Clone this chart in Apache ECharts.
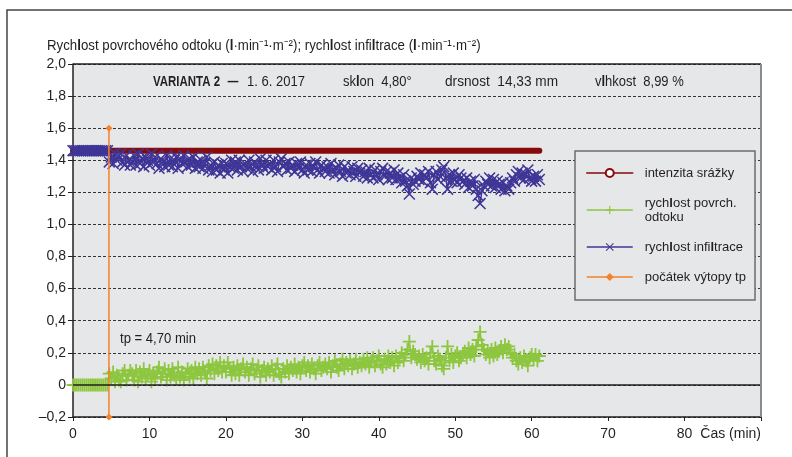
<!DOCTYPE html>
<html><head><meta charset="utf-8">
<script src="https://cdn.jsdelivr.net/npm/echarts@6/dist/echarts.min.js"></script>
<style>html,body{margin:0;padding:0;background:#fff}#c{width:792px;height:457px}</style>
</head><body><div id="c"></div>
<script>
const FONT = "'Liberation Sans', Arial, sans-serif";

// ---- data ----
const seriesNames = ['intenzita srážky', 'rychlost povrch.\nodtoku', 'rychlost infiltrace', 'počátek výtopy tp'];
const xTickLabels = ['0', '10', '20', '30', '40', '50', '60', '70', '80', 'Čas (min)'];
const yTickLabels = ['–0,2', '0', '0,2', '0,4', '0,6', '0,8', '1,0', '1,2', '1,4', '1,6', '1,8', '2,0'];
const rainTimes = [0, 61];
const rainValues = [1.46, 1.46];
const tpTimes = [4.70, 4.70];
const tpValues = [-0.2, 1.6];
const sampleStart = 0;      // min
const sampleStep = 0.25;    // min
// runoff rate, l/min/m2 (t = 0 ... 61 min)
const runoff = [
  0,0,0,0,0,0,0,0,0,0,0,0,0,0,0,0,0,0,0,
  0.07,0.04,0.08,0.02,0.06,0.03,
  0.02,0.07,0.09,0.03,0.06,0.09,
  0.07,0.03,0.09,0.02,0.08,0.05,
  0.10,0.04,0.06,0.09,0.02,0.07,
  0.04,0.08,0.11,0.05,0.07,0.10,
  0.03,0.09,0.05,0.10,0.06,0.04,
  0.11,0.05,0.08,0.03,0.07,0.10,
  0.05,0.09,0.04,0.11,0.07,0.10,
  0.06,0.11,0.08,0.04,0.12,0.09,
  0.13,0.07,0.12,0.09,0.14,0.08,
  0.12,0.08,0.14,0.10,0.06,0.11,
  0.07,0.12,0.06,0.10,0.13,0.08,
  0.11,0.06,0.10,0.13,0.07,0.09,
  0.12,0.05,0.09,0.11,0.06,0.10,
  0.08,0.12,0.06,0.10,0.13,0.07,
  0.05,0.10,0.08,0.12,0.07,0.11,
  0.09,0.13,0.08,0.11,0.07,0.12,
  0.14,0.09,0.12,0.08,0.13,0.10,
  0.07,0.12,0.14,0.09,0.11,0.13,
  0.10,0.14,0.08,0.12,0.15,0.11,
  0.09,0.13,0.16,0.10,0.14,0.12,
  0.15,0.10,0.13,0.16,0.11,0.14,
  0.12,0.16,0.13,0.17,0.11,0.15,
  0.17,0.12,0.15,0.18,0.13,0.11,
  0.16,0.13,0.18,0.14,0.17,0.12,
  0.18,0.14,0.17,0.20,0.15,0.19,
  0.22,0.27,0.17,0.21,0.19,0.16,
  0.18,0.14,0.19,0.15,0.17,0.13,
  0.20,0.24,0.15,0.13,0.18,0.16,
  0.12,0.10,0.17,0.24,0.15,0.19,
  0.14,0.18,0.20,0.15,0.17,0.19,
  0.21,0.17,0.23,0.19,0.22,0.18,
  0.24,0.28,0.33,0.25,0.22,0.19,
  0.21,0.17,0.22,0.18,0.23,0.19,
  0.21,0.24,0.20,0.25,0.22,0.24,
  0.20,0.17,0.19,0.15,0.13,0.17,
  0.14,0.18,0.15,0.12,0.17,0.19,
  0.16,0.19,0.15,0.18
];
// infiltration rate, l/min/m2 (t = 0 ... 61 min)
const infiltration = [
  1.46,1.46,1.46,1.46,1.46,1.46,1.46,1.46,1.46,1.46,1.46,1.46,1.46,1.46,1.46,1.46,1.46,1.46,1.46,
  1.39,1.42,1.38,1.44,1.40,1.43,
  1.44,1.39,1.37,1.43,1.40,1.37,
  1.39,1.43,1.37,1.44,1.38,1.41,
  1.36,1.42,1.40,1.37,1.44,1.39,
  1.42,1.38,1.35,1.41,1.39,1.36,
  1.43,1.37,1.41,1.36,1.40,1.42,
  1.35,1.41,1.38,1.43,1.39,1.36,
  1.41,1.37,1.42,1.35,1.39,1.36,
  1.40,1.35,1.38,1.42,1.34,1.37,
  1.33,1.39,1.34,1.37,1.32,1.38,
  1.34,1.38,1.32,1.36,1.40,1.35,
  1.39,1.34,1.40,1.36,1.33,1.38,
  1.35,1.40,1.36,1.33,1.39,1.37,
  1.34,1.41,1.37,1.35,1.40,1.36,
  1.38,1.34,1.40,1.36,1.33,1.39,
  1.41,1.36,1.38,1.34,1.39,1.35,
  1.37,1.33,1.38,1.35,1.39,1.34,
  1.32,1.37,1.34,1.38,1.33,1.36,
  1.39,1.34,1.32,1.37,1.35,1.33,
  1.36,1.32,1.38,1.34,1.31,1.35,
  1.37,1.33,1.30,1.36,1.32,1.34,
  1.31,1.36,1.33,1.30,1.35,1.32,
  1.34,1.30,1.33,1.29,1.35,1.31,
  1.29,1.34,1.31,1.28,1.33,1.35,
  1.30,1.33,1.28,1.32,1.29,1.34,
  1.28,1.32,1.29,1.26,1.31,1.27,
  1.24,1.19,1.29,1.25,1.27,1.30,
  1.28,1.32,1.27,1.31,1.29,1.33,
  1.26,1.22,1.31,1.33,1.28,1.30,
  1.34,1.36,1.29,1.22,1.31,1.27,
  1.32,1.28,1.26,1.31,1.29,1.27,
  1.25,1.29,1.23,1.27,1.24,1.28,
  1.22,1.18,1.13,1.21,1.24,1.27,
  1.25,1.29,1.24,1.28,1.23,1.27,
  1.25,1.22,1.26,1.21,1.24,1.22,
  1.26,1.29,1.27,1.31,1.33,1.29,
  1.32,1.28,1.31,1.34,1.29,1.27,
  1.30,1.27,1.31,1.28
];

// ---- helpers ----
const pairs = (xs, ys) => ys.map((v, i) => [xs[i], v]);
const sampled = arr => arr.map((v, i) => [sampleStart + i * sampleStep, v]);
const boldL = s => s.replace(/l/g, '{b|l}');
const mctx = document.createElement('canvas').getContext('2d');
function fitScale(plain, weight, size, target) {
  mctx.font = weight + ' ' + size + 'px ' + FONT;
  return target / mctx.measureText(plain).width;
}

const C_RED = '#870b0b', C_GREEN = '#8dc63f', C_BLUE = '#3f3597', C_ORANGE = '#f5822a';
const BG = '#e6e7e8', INK = '#231f20';
const PLUS = 'path://M4.3,0H5.7V10H4.3Z M0,4.3H10V5.7H0Z';
const CROSS = 'path://M0,0.9L0.9,0L10,9.1L9.1,10Z M9.1,0L10,0.9L0.9,10L0,9.1Z';

const chart = echarts.init(document.getElementById('c'), null, {renderer: 'canvas'});
const richBase = {b: {fontFamily: FONT, fontSize: 14, fontWeight: 'bold', fill: INK, color: INK}};

function txt(x, y, text, bold, width) {
  const sx = width ? fitScale(text, bold ? 'bold' : 'normal', 14, width) : 1;
  return {
    type: 'text', x: x, y: y, z: 10, scaleX: sx,
    style: {text: bold ? text : boldL(text), fill: INK, fontFamily: FONT, fontSize: 14,
      fontWeight: bold ? 'bold' : 'normal', verticalAlign: 'middle', rich: richBase}
  };
}

const option = {
  backgroundColor: '#fff',
  animation: false,
  textStyle: {fontFamily: FONT},
  grid: {left: 73, right: 31, top: 64, bottom: 40, show: true, backgroundColor: BG, borderWidth: 0},
  xAxis: {
    type: 'value', min: 0, max: 90, interval: 10,
    axisLine: {onZero: false, lineStyle: {color: INK, width: 1.5}},
    axisTick: {show: true, length: 4, lineStyle: {color: INK}},
    splitLine: {show: false},
    axisLabel: {color: INK, fontSize: 14, fontFamily: FONT, margin: 10, alignMaxLabel: 'right',
      formatter: v => xTickLabels[Math.round(v / 10)]}
  },
  yAxis: {
    type: 'value', min: -0.2, max: 2.0, interval: 0.2,
    axisLine: {show: true, lineStyle: {color: INK, width: 1.5}},
    axisTick: {show: true, length: 5, lineStyle: {color: INK}},
    splitLine: {show: true, lineStyle: {color: '#333', width: 1, type: [3, 2]}},
    axisLabel: {color: INK, fontSize: 14, fontFamily: FONT, margin: 7,
      formatter: v => yTickLabels[Math.round((v + 0.2) / 0.2)]}
  },
  legend: {
    orient: 'vertical', left: 586, top: 166, padding: 0,
    itemWidth: 46, itemHeight: 10, itemGap: 16, selectedMode: false, z: 6,
    data: seriesNames,
    lineStyle: {width: 1.5},
    formatter: n => boldL(n),
    textStyle: {fontFamily: FONT, fontSize: 13, color: INK, lineHeight: 14, padding: [0, 0, 0, 7],
      rich: {b: {fontFamily: FONT, fontSize: 13, fontWeight: 'bold', color: INK, lineHeight: 14}}}
  },
  graphic: [
    {type: 'rect', z: -10, shape: {x: 7, y: 10, width: 900, height: 600}, style: {fill: 'none', stroke: '#444', lineWidth: 1.5}},
    {type: 'rect', z: 5, shape: {x: 575, y: 151, width: 180, height: 149}, style: {fill: BG, stroke: '#6d6e70', lineWidth: 1.5}},
    txt(47, 46, 'Rychlost povrchového odtoku (l·min⁻¹·m⁻²); rychlost infiltrace (l·min⁻¹·m⁻²)', false, 430),
    txt(153, 82, 'VARIANTA 2', true, 67),
    txt(227, 82, '–', true, 12),
    txt(247, 82, '1. 6. 2017', false, 58),
    txt(343, 82, 'sklon  4,80°', false, 68),
    txt(445, 82, 'drsnost  14,33 mm', false, 113),
    txt(595, 82, 'vlhkost  8,99 %', false, 88),
    txt(120, 339, 'tp = 4,70 min', false, 76)
  ],
  series: [
    {
      name: seriesNames[0], type: 'line', data: pairs(rainTimes, rainValues), z: 2,
      symbol: 'emptyCircle', symbolSize: 6, showSymbol: false,
      lineStyle: {color: C_RED, width: 6, cap: 'round'}, itemStyle: {color: C_RED},
      markLine: {
        silent: true, symbol: 'none', label: {show: false}, animation: false,
        lineStyle: {color: INK, width: 1.5, type: 'solid'},
        data: [{yAxis: 0}, {yAxis: 2.0}, {xAxis: 90, lineStyle: {color: '#8a8b8d', width: 2}}]
      }
    },
    {
      name: seriesNames[1], type: 'line', data: sampled(runoff), z: 3,
      symbol: PLUS, symbolSize: 13, showSymbol: true,
      lineStyle: {color: C_GREEN, width: 1.5}, itemStyle: {color: C_GREEN}
    },
    {
      name: seriesNames[2], type: 'line', data: sampled(infiltration), z: 3,
      symbol: CROSS, symbolSize: 12, showSymbol: true,
      lineStyle: {color: C_BLUE, width: 1.5}, itemStyle: {color: C_BLUE}
    },
    {
      name: seriesNames[3], type: 'line', data: pairs(tpTimes, tpValues), z: 4,
      symbol: 'diamond', symbolSize: 7,
      lineStyle: {color: C_ORANGE, width: 1.5}, itemStyle: {color: C_ORANGE}
    }
  ]
};
chart.setOption(option);
</script>
</body></html>
